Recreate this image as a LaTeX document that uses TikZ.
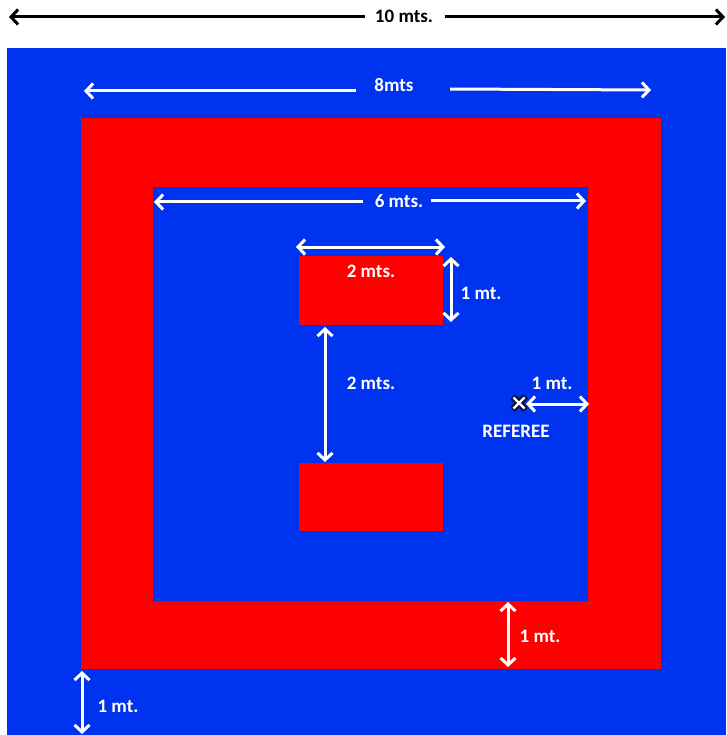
\documentclass[tikz,border=0pt]{standalone}
\usepackage{fontspec}
\setmainfont{Carlito}
\usetikzlibrary{arrows.meta}
\definecolor{fieldblue}{RGB}{0,51,240}
\definecolor{matred}{RGB}{255,0,0}
\definecolor{navy}{RGB}{10,20,70}
\begin{document}
\begin{tikzpicture}[x=1pt,y=-1pt,
  lbl/.style={font=\fontsize{19}{22}\selectfont\bfseries, text=white, inner sep=0pt},
  barb/.tip={Straight Barb[length=7pt,width=15pt,line width=3pt]},
  dimw/.style={white, line width=3pt},
  dimk/.style={black, line width=3pt},
]
\useasboundingbox (0,0) rectangle (726,735);
\fill[white] (0,0) rectangle (726,735);
% areas
\fill[fieldblue] (7,48) rectangle (726,735);
\fill[matred] (81,118) rectangle (661,669);
\fill[fieldblue] (153,187) rectangle (588,601);
\fill[matred] (299,256) rectangle (443,325);
\fill[matred] (299,463) rectangle (443,531);

% 10 mts
\coordinate (k1) at (9,17);
\coordinate (k2) at (365,17);
\coordinate (k3) at (445,17);
\coordinate (k4) at (725,17);
\node[lbl, text=black] (t10) at (404,16) {10 mts.};
\draw[dimk, -{barb}] (k2) -- (k1);
\draw[dimk, -{barb}] (k3) -- (k4);

% 8mts
\coordinate (e1) at (84,91);
\coordinate (e2) at (356,91);
\coordinate (e3) at (450,89);
\coordinate (e4) at (651,90);
\node[lbl] (t8) at (394,85) {8mts};
\draw[dimw, -{barb}] (e2) -- (e1);
\draw[dimw, -{barb}] (e3) -- (e4);

% 6 mts
\coordinate (s1) at (154,202);
\coordinate (s2) at (363,202);
\coordinate (s3) at (431,201);
\coordinate (s4) at (586,201);
\node[lbl] (t6) at (399,201) {6 mts.};
\draw[dimw, -{barb}] (s2) -- (s1);
\draw[dimw, -{barb}] (s3) -- (s4);

% 2 mts top
\coordinate (w1) at (296,247);
\coordinate (w2) at (445,247);
\draw[dimw, {barb}-{barb}] (w1) -- (w2);
\node[lbl] (t2a) at (371,271) {2 mts.};

% 1 mt vertical
\coordinate (h1) at (451,257);
\coordinate (h2) at (451,322);
\draw[dimw, {barb}-{barb}] (h1) -- (h2);
\node[lbl] (t1a) at (481,293) {1 mt.};

% 2 mts vertical
\coordinate (v1) at (325,327);
\coordinate (v2) at (325,462);
\draw[dimw, {barb}-{barb}] (v1) -- (v2);
\node[lbl] (t2b) at (371,383) {2 mts.};

% referee
\coordinate (ref) at (519,403);
\draw[navy, line width=7pt] ([shift={(-6.5,-6.5)}]ref) -- ([shift={(6.5,6.5)}]ref)
  ([shift={(-6.5,6.5)}]ref) -- ([shift={(6.5,-6.5)}]ref);
\draw[white, line width=2.4pt] ([shift={(-5.5,-5.5)}]ref) -- ([shift={(5.5,5.5)}]ref)
  ([shift={(-5.5,5.5)}]ref) -- ([shift={(5.5,-5.5)}]ref);
\coordinate (r1) at (526,404);
\coordinate (r2) at (589,404);
\draw[dimw, {barb}-{barb}] (r1) -- (r2);
\node[lbl] (t1r) at (552,383) {1 mt.};
\node[lbl] (tref) at (516,431) {REFEREE};

% 1 mt bottom
\coordinate (b1) at (508,602);
\coordinate (b2) at (508,667);
\draw[dimw, {barb}-{barb}] (b1) -- (b2);
\node[lbl] (t1b) at (540,636) {1 mt.};

% 1 mt bottom-left
\coordinate (l1) at (82,671);
\coordinate (l2) at (82,734);
\draw[dimw, {barb}-{barb}] (l1) -- (l2);
\node[lbl] (t1l) at (118,706) {1 mt.};
\end{tikzpicture}
\end{document}
